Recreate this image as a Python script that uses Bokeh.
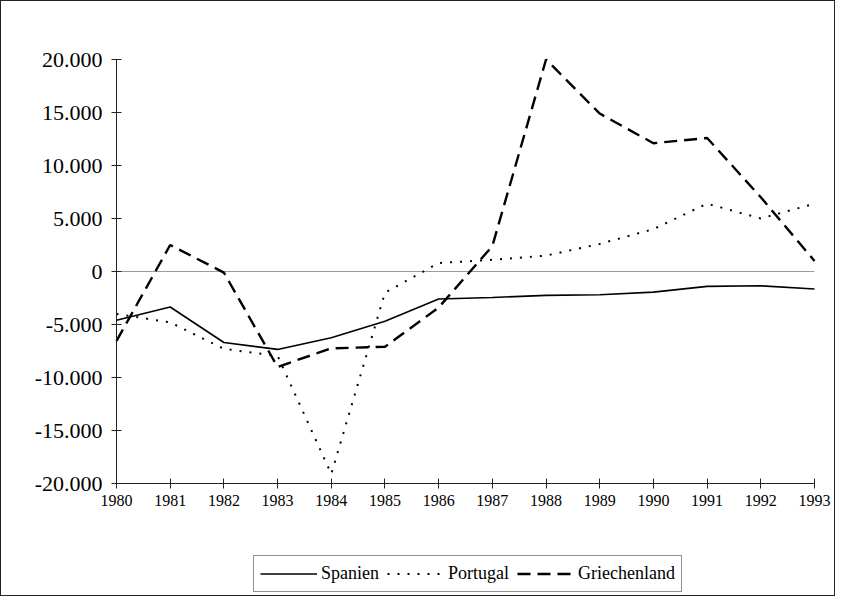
from bokeh.plotting import figure
from bokeh.models import Legend, LegendItem, FixedTicker, Range1d
from bokeh.embed import file_html
from bokeh.resources import INLINE

years = list(range(1980, 1994))
spanien = [-4600, -3350, -6700, -7350, -6250, -4700, -2600, -2450, -2250, -2200, -1950, -1400, -1350, -1650]
portugal = [-4000, -4800, -7300, -7950, -19100, -2000, 800, 1100, 1500, 2600, 4000, 6400, 5000, 6400]
griechenland = [-6550, 2500, -100, -9000, -7250, -7100, -3400, 2400, 20000, 14900, 12100, 12600, 7000, 1000]

y_ticks = [-20000, -15000, -10000, -5000, 0, 5000, 10000, 15000, 20000]
y_labels = ["-20.000", "-15.000", "-10.000", "-5.000", "0", "5.000", "10.000", "15.000", "20.000"]
series_names = ["Spanien", "Portugal", "Griechenland"]

FONT = "Liberation Serif"
W, H = 835, 596
X_MIN, X_MAX = years[0], years[-1]
Y_MIN, Y_MAX = -20000, 20000
# plot box in pixels: left 115, right 813, top 58, bottom 482; the frame fills the whole figure
px_per_year = (813 - 115) / (X_MAX - X_MIN)
px_per_unit = (482 - 58) / (Y_MAX - Y_MIN)
x_lo = X_MIN - 115 / px_per_year
x_hi = X_MAX + (W - 813) / px_per_year
y_hi = Y_MAX + 58 / px_per_unit
y_lo = Y_MIN - (H - 482) / px_per_unit

p = figure(width=W, height=H, output_backend="svg", toolbar_location=None,
           x_range=Range1d(x_lo, x_hi), y_range=Range1d(y_lo, y_hi),
           min_border_left=0, min_border_top=0, min_border_right=0, min_border_bottom=0)
p.styles = {"border": "1px solid #222", "box-sizing": "border-box"}
p.outline_line_color = None
p.grid.visible = False
p.background_fill_color = "white"
p.border_fill_color = "white"

p.segment(x0=X_MIN, y0=0, x1=X_MAX, y1=0, line_color="#9a9a9a", line_width=1)

r1 = p.line(years, spanien, line_color="black", line_width=1.6)
r2 = p.line(years, portugal, line_color="black", line_width=2, line_dash="2 8")
r3 = p.line(years, griechenland, line_color="black", line_width=2.4, line_dash="13 7")

p.xaxis.fixed_location = Y_MIN
p.xaxis.bounds = (X_MIN, X_MAX)
p.xaxis.ticker = FixedTicker(ticks=years)
p.xaxis.major_label_overrides = {y: str(y) for y in years}
p.yaxis.fixed_location = X_MIN
p.yaxis.bounds = (Y_MIN, Y_MAX)
p.yaxis.ticker = FixedTicker(ticks=y_ticks)
p.yaxis.major_label_overrides = {t: l for t, l in zip(y_ticks, y_labels)}

for ax in (p.xaxis, p.yaxis):
    ax.axis_line_color = "#222"
    ax.axis_line_width = 1
    ax.major_tick_line_color = "#222"
    ax.major_tick_in = 5
    ax.major_tick_out = 5
    ax.minor_tick_line_color = None
    ax.major_label_text_font = FONT
    ax.major_label_text_color = "black"

p.xaxis.major_label_text_font_size = "16px"
p.xaxis.major_label_standoff = 6
p.yaxis.major_label_text_font_size = "22px"
p.yaxis.major_label_standoff = 9

legend = Legend(items=[LegendItem(label=series_names[0], renderers=[r1]),
                       LegendItem(label=series_names[1], renderers=[r2]),
                       LegendItem(label=series_names[2], renderers=[r3])],
                orientation="horizontal", location=(252, 5))
legend.label_text_font = FONT
legend.label_text_font_size = "18px"
legend.label_text_color = "black"
legend.glyph_width = 57
legend.glyph_height = 23
legend.label_height = 23
legend.label_standoff = 4
legend.spacing = 8
legend.padding = 6
legend.margin = 0
legend.border_line_color = "#222"
legend.border_line_width = 1
legend.background_fill_alpha = 1
p.add_layout(legend, "center")

open("out.html", "w").write(file_html(p, INLINE))
